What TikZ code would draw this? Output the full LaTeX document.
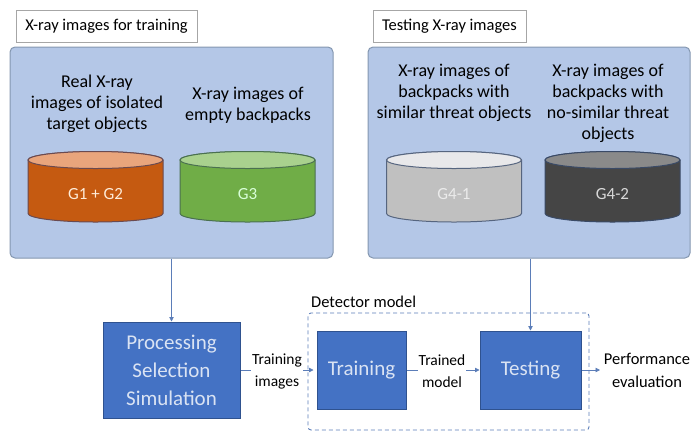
\documentclass[tikz,border=0pt]{standalone}
\usepackage{fontspec}
\setmainfont{Carlito}
\usetikzlibrary{arrows.meta}
\definecolor{panelfill}{HTML}{B4C7E7}
\definecolor{paneldraw}{HTML}{8497B0}
\definecolor{boxfill}{HTML}{4472C4}
\definecolor{boxdraw}{HTML}{2F528F}
\definecolor{boxtext}{HTML}{DAE3F3}
\definecolor{arrowc}{HTML}{5B7DB8}
\definecolor{orbody}{HTML}{C55A11}
\definecolor{ortop}{HTML}{E9A57C}
\definecolor{ordraw}{HTML}{6A4A50}
\definecolor{grbody}{HTML}{70AD47}
\definecolor{grtop}{HTML}{A9D18E}
\definecolor{grdraw}{HTML}{4A7050}
\definecolor{lgbody}{HTML}{C0C0C0}
\definecolor{lgtop}{HTML}{E8E8EA}
\definecolor{lgdraw}{HTML}{56657F}
\definecolor{dgbody}{HTML}{454545}
\definecolor{dgtop}{HTML}{8A8A8A}
\definecolor{dgdraw}{HTML}{3A4A66}
\tikzset{
  panel/.style={draw=paneldraw, line width=1pt, fill=panelfill, rounded corners=5pt, inner sep=0pt},
  titlebox/.style={draw=black!35, fill=white, line width=0.6pt, inner sep=0pt, font=\fontsize{16.5}{19}\selectfont},
  ptext/.style={align=center, font=\fontsize{18}{21}\selectfont, text=black},
  bluebox/.style={draw=boxdraw, line width=1pt, fill=boxfill, text=boxtext, align=center, inner sep=0pt, font=\fontsize{21}{28}\selectfont},
  lbl/.style={align=center, fill=white, inner sep=1pt, font=\fontsize{15.5}{22}\selectfont},
  arr/.style={draw=arrowc, line width=0.8pt, -{Triangle[length=4.5pt,width=4.5pt]}},
  cyltext/.style={font=\fontsize{17}{19}\selectfont},
}
\newcommand{\mycyl}[5]{% cx, body, top, draw, name
  \draw[fill=#2, draw=#4, line width=1pt]
    (#1-67.5,160) -- (#1-67.5,213.5)
    arc[start angle=180, end angle=360, x radius=67.5pt, y radius=8.5pt]
    -- (#1+67.5,160)
    arc[start angle=0, end angle=180, x radius=67.5pt, y radius=8.5pt] -- cycle;
  \draw[fill=#3, draw=#4, line width=1pt] (#1,160) ellipse[x radius=67.5pt, y radius=8.5pt];
  \coordinate (#5) at (#1,194);
}
\begin{document}
\begin{tikzpicture}[x=1pt, y=-1pt]
\useasboundingbox (0,0) rectangle (692,432);
% panels
\node[panel, minimum width=323pt, minimum height=211pt] (lp) at (171.5,152.5) {};
\node[panel, minimum width=322pt, minimum height=211pt] (rp) at (529,152.5) {};
\node[titlebox, minimum width=181pt, minimum height=32pt] (lt) at (106.5,26) {X-ray images for training};
\node[titlebox, minimum width=153pt, minimum height=32pt] (rt) at (449.5,26) {Testing X-ray images};
% panel texts
\node[ptext] (t1) at (97,104) {Real X-ray\\images of isolated\\target objects};
\node[ptext] (t2) at (248,105) {X-ray images of\\empty backpacks};
\node[ptext] (t3) at (454,93) {X-ray images of\\backpacks with\\similar threat objects};
\node[ptext] (t4) at (608,103) {X-ray images of\\backpacks with\\no-similar threat\\objects};
% cylinders
\mycyl{95.5}{orbody}{ortop}{ordraw}{c1}
\mycyl{247.5}{grbody}{grtop}{grdraw}{c2}
\mycyl{454}{lgbody}{lgtop}{lgdraw}{c3}
\mycyl{612.5}{dgbody}{dgtop}{dgdraw}{c4}
\node[cyltext, text=white!85!orange] (g1) at (c1) {G1 + G2};
\node[cyltext, text=white!85!green] (g3) at (c2) {G3};
\node[cyltext, text=white!92!black] (g41) at (c3) {G4-1};
\node[cyltext, text=white!85!black] (g42) at (c4) {G4-2};
% detector model dashed box
\node[draw=arrowc, dash pattern=on 4pt off 3pt, line width=0.9pt, rounded corners=3pt, minimum width=281pt, minimum height=117pt, inner sep=0pt] (det) at (448.5,371.5) {};
\node[anchor=west, font=\fontsize{16.5}{19}\selectfont, inner sep=0pt] (detl) at (311,302) {Detector model};
% blue boxes
\node[bluebox, minimum width=137pt, minimum height=96pt] (proc) at (171.5,370) {Processing\\Selection\\Simulation};
\node[bluebox, minimum width=89pt, minimum height=78pt] (train) at (361.5,370) {Training};
\node[bluebox, minimum width=101pt, minimum height=78pt] (test) at (530.5,370) {Testing};
% connectors
\draw[arr] (lp.south) -- (proc.north);
\draw[arr] (test.north |- rp.south) -- (test.north);
\draw[arr] (proc.east) -- ([xshift=-3pt]train.west);
\draw[arr] (train.east) -- (test.west);
\coordinate (perf) at (600,370);
\draw[arr] (test.east) -- (perf);
\node[lbl] (l1) at (277,371) {Training\\images};
\node[lbl] (l2) at (442,371) {Trained\\model};
\node[align=center, inner sep=1pt, font=\fontsize{16.5}{23}\selectfont] (l3) at (647,370) {Performance\\evaluation};
\end{tikzpicture}
\end{document}
